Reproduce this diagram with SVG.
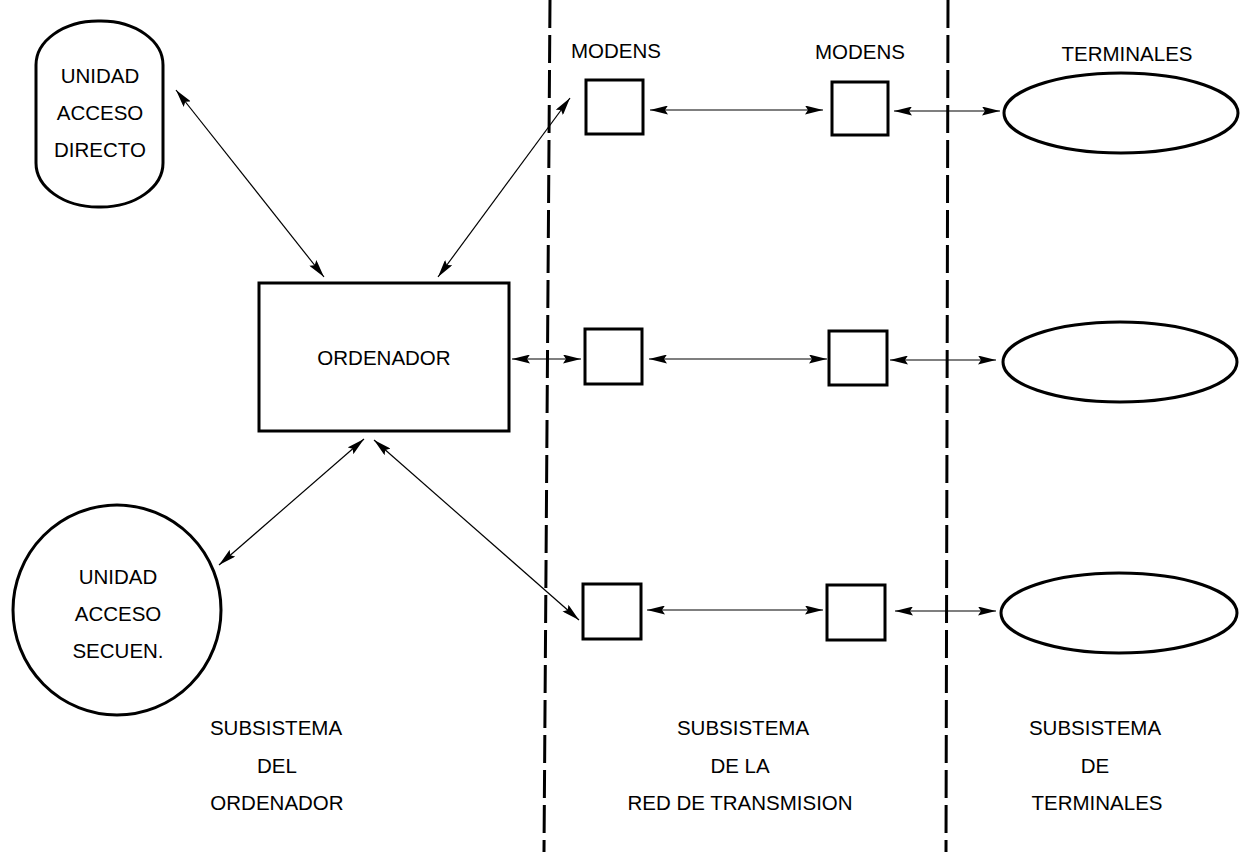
<svg xmlns="http://www.w3.org/2000/svg" width="1240" height="852" viewBox="0 0 1240 852">
<defs>
<marker id="ah" viewBox="0 0 18 9" markerWidth="18" markerHeight="9" refX="18" refY="4.5" orient="auto-start-reverse" markerUnits="userSpaceOnUse">
<path d="M0,0 L18,4.5 L0,9 L3,4.5 z" fill="#000"/>
</marker>
<style>
text{font-family:"Liberation Sans",Arial,sans-serif;font-size:20.5px;fill:#000;text-anchor:middle}
.shape{fill:#fff;stroke:#000;stroke-width:3}
.conn{stroke:#000;stroke-width:1.2;fill:none;marker-start:url(#ah);marker-end:url(#ah)}
.div{stroke:#000;stroke-width:3;stroke-dasharray:28 7;fill:none}
</style>
</defs>
<rect width="1240" height="852" fill="#fff"/>
<g id="dividers">
<line class="div" x1="550" y1="0" x2="544" y2="852"/>
<line class="div" x1="948" y1="0" x2="946" y2="852"/>
</g>
<g id="connectors">
<line class="conn" x1="176" y1="90" x2="324" y2="277"/>
<line class="conn" x1="570" y1="98" x2="438" y2="277"/>
<line class="conn" x1="512" y1="359" x2="581" y2="359"/>
<line class="conn" x1="364" y1="439" x2="219" y2="565"/>
<line class="conn" x1="374" y1="440" x2="579" y2="620"/>
<line class="conn" x1="650" y1="110" x2="823" y2="110"/>
<line class="conn" x1="894" y1="111" x2="1000" y2="111"/>
<line class="conn" x1="649" y1="359" x2="827" y2="359"/>
<line class="conn" x1="890" y1="360" x2="996" y2="360"/>
<line class="conn" x1="647" y1="610" x2="823" y2="610"/>
<line class="conn" x1="895" y1="611" x2="996" y2="611"/>
</g>
<g id="unidad-directo">
<rect class="shape" x="36" y="21" width="127" height="186" rx="62" ry="44"/>
<text x="100" y="83">UNIDAD</text>
<text x="100" y="120">ACCESO</text>
<text x="100" y="157">DIRECTO</text>
</g>
<g id="ordenador">
<rect class="shape" x="259" y="283" width="250" height="148"/>
<text x="384" y="365">ORDENADOR</text>
</g>
<g id="unidad-secuencial">
<ellipse class="shape" cx="117" cy="610" rx="104" ry="105"/>
<text x="118" y="584">UNIDAD</text>
<text x="118" y="621">ACCESO</text>
<text x="118" y="658">SECUEN.</text>
</g>
<g id="label-modens-1"><text x="616" y="58">MODENS</text></g>
<g id="label-modens-2"><text x="860" y="59">MODENS</text></g>
<g id="label-terminales"><text x="1127" y="61">TERMINALES</text></g>
<g id="modem-1a"><rect class="shape" x="586" y="80" width="57" height="54"/></g>
<g id="modem-2a"><rect class="shape" x="585" y="329" width="57" height="55"/></g>
<g id="modem-3a"><rect class="shape" x="583" y="584" width="58" height="55"/></g>
<g id="modem-1b"><rect class="shape" x="832" y="82" width="56" height="53"/></g>
<g id="modem-2b"><rect class="shape" x="829" y="331" width="58" height="54"/></g>
<g id="modem-3b"><rect class="shape" x="827" y="585" width="58" height="55"/></g>
<g id="terminal-1"><ellipse class="shape" cx="1121" cy="113" rx="117" ry="40"/></g>
<g id="terminal-2"><ellipse class="shape" cx="1120" cy="362" rx="117" ry="40"/></g>
<g id="terminal-3"><ellipse class="shape" cx="1119" cy="613" rx="118" ry="40"/></g>
<g id="sub-ordenador">
<text x="276" y="735">SUBSISTEMA</text>
<text x="277" y="773">DEL</text>
<text x="277" y="810">ORDENADOR</text>
</g>
<g id="sub-red">
<text x="743" y="735">SUBSISTEMA</text>
<text x="740" y="773">DE LA</text>
<text x="740" y="810">RED DE TRANSMISION</text>
</g>
<g id="sub-terminales">
<text x="1095" y="735">SUBSISTEMA</text>
<text x="1095" y="773">DE</text>
<text x="1097" y="810">TERMINALES</text>
</g>
</svg>
